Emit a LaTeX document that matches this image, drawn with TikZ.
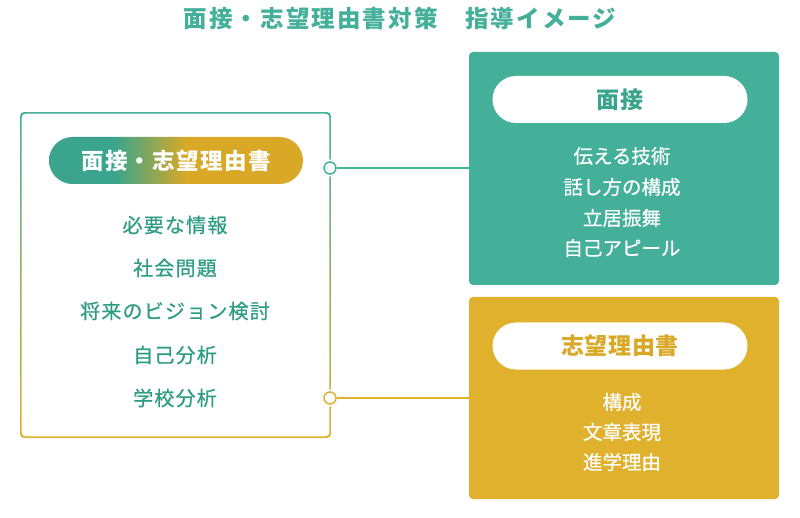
\documentclass[tikz,border=0pt]{standalone}
\usepackage{fontspec}
\setmainfont{Noto Sans CJK JP}
\usetikzlibrary{calc}
\definecolor{tgreen}{HTML}{45B09A}
\definecolor{tgold}{HTML}{DFB12C}
\definecolor{dgreen}{HTML}{2F9D84}
\definecolor{pgreen}{HTML}{3AA58C}
\definecolor{pgold}{HTML}{D8A826}
\pgfdeclarehorizontalshading{pillshade}{100bp}{color(0bp)=(pgreen); color(38bp)=(pgreen); color(52bp)=(pgold); color(100bp)=(pgold)}
\begin{document}
\begin{tikzpicture}[x=1pt,y=-1pt,
  titletext/.style={text=tgreen, font=\fontsize{23.5}{24}\selectfont\bfseries\addfontfeature{LetterSpace=9}},
  itemL/.style={text=dgreen, font=\fontsize{20}{20}\selectfont\addfontfeature{LetterSpace=6,FakeBold=0.6}},
  itemR/.style={text=white, font=\fontsize{19.5}{20}\selectfont\addfontfeature{FakeBold=0.6}},
  bigbox/.style={rounded corners=4pt, minimum width=310pt, draw=none, inner sep=0pt},
  whitepill/.style={fill=white, rounded corners=23.5pt, minimum width=255pt, minimum height=47pt, inner sep=0pt, font=\fontsize{23}{23}\selectfont\bfseries\addfontfeature{LetterSpace=3}},
  ring/.style={circle, fill=white, line width=1.5pt, minimum size=12pt, inner sep=0pt, preaction={draw=white, line width=5pt}},
  link/.style={line width=1.5pt}
]
\useasboundingbox (0,0) rectangle (800,518);
\fill[white] (0,0) rectangle (800,518);

\node[titletext] (title) at (400,19) {面接・志望理由書対策　指導イメージ};

% left box
\node[minimum width=309pt, minimum height=324pt, inner sep=0pt] (lbox) at (175.5,275) {};
\shade[top color=tgreen, bottom color=tgold, even odd rule, rounded corners=4pt]
  ([xshift=-0.75pt,yshift=0.75pt]lbox.north west) rectangle ([xshift=0.75pt,yshift=-0.75pt]lbox.south east)
  ([xshift=0.75pt,yshift=-0.75pt]lbox.north west) rectangle ([xshift=-0.75pt,yshift=0.75pt]lbox.south east);

\node[shade, shading=pillshade, rounded corners=23.5pt, minimum width=254pt, minimum height=47pt, inner sep=0pt,
  text=white, font=\fontsize{22.5}{23}\selectfont\bfseries\addfontfeature{LetterSpace=6}] (lpill) at (176,160.5) {面接・志望理由書};

\node[itemL] (l1) at (175,225) {必要な情報};
\node[itemL] (l2) at (175,268) {社会問題};
\node[itemL] (l3) at (175,311) {将来のビジョン検討};
\node[itemL] (l4) at (175,355) {自己分析};
\node[itemL] (l5) at (175,398) {学校分析};

% right boxes
\node[bigbox, fill=tgreen, minimum height=233pt] (rbox1) at (624,168.5) {};
\node[whitepill, text=pgreen] (rpill1) at (620,99.5) {面接};
\node[itemR] (r11) at (622,156) {伝える技術};
\node[itemR] (r12) at (622,187) {話し方の構成};
\node[itemR] (r13) at (622,218) {立居振舞};
\node[itemR] (r14) at (622,248) {自己アピール};

\node[bigbox, fill=tgold, minimum height=202pt] (rbox2) at (624,398) {};
\node[whitepill, text=pgold] (rpill2) at (620,346) {志望理由書};
\node[itemR] (r21) at (622,402) {構成};
\node[itemR] (r22) at (622,432) {文章表現};
\node[itemR] (r23) at (622,462) {進学理由};

% connectors
\node[ring, draw=tgreen] (c1) at (330,168) {};
\node[ring, draw=tgold] (c2) at (330,398) {};
\draw[link, tgreen] (c1.east) -- (c1.east -| rbox1.west);
\draw[link, tgold] (c2.east) -- (c2.east -| rbox2.west);
\end{tikzpicture}
\end{document}
